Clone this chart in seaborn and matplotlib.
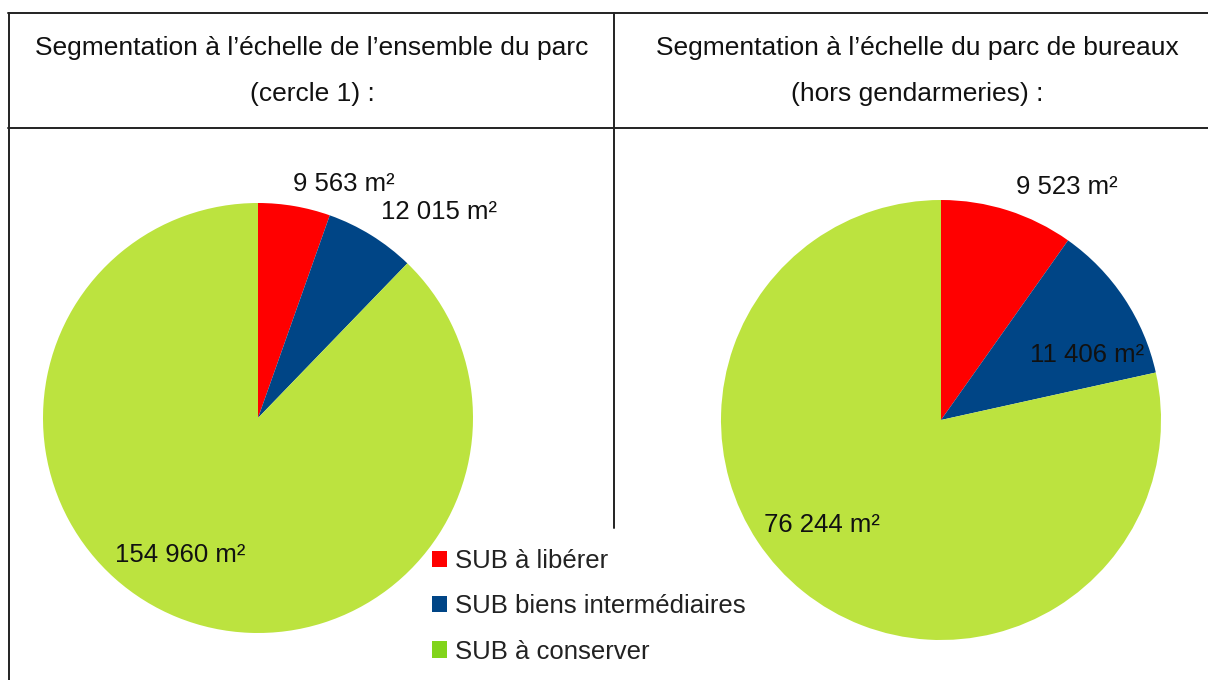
import matplotlib
matplotlib.use("Agg")
import matplotlib.pyplot as plt
import seaborn as sns
from matplotlib.lines import Line2D
from matplotlib.patches import Patch

# Data
categories = ["SUB à libérer", "SUB biens intermédiaires", "SUB à conserver"]
parc_total = [9563, 12015, 154960]
parc_bureaux = [9523, 11406, 76244]
titles = ["Segmentation à l\u2019échelle de l\u2019ensemble du parc\n(cercle 1) :",
          "Segmentation à l\u2019échelle du parc de bureaux\n(hors gendarmeries) :"]

pie_colors = ["#ff0000", "#004586", "#bce33f"]
legend_colors = ["#ff0000", "#004586", "#81d41a"]

sns.set_theme(style="white")
plt.rcParams["font.family"] = ["Liberation Sans", "DejaVu Sans"]

W, H = 1208, 680
fig = plt.figure(figsize=(W / 100, H / 100), dpi=100)


def fx(x):
    return x / W


def fy(y):
    return 1 - y / H


def fmt(v):
    return f"{v:,}".replace(",", " ") + " m²"


# table borders
line_kw = dict(color="#222222", lw=1.4, transform=fig.transFigure)
fig.add_artist(Line2D([fx(8), 1], [fy(13), fy(13)], **line_kw))
fig.add_artist(Line2D([fx(8), 1], [fy(128), fy(128)], **line_kw))
fig.add_artist(Line2D([fx(8.5), fx(8.5)], [fy(13), 0], **line_kw))
fig.add_artist(Line2D([fx(614), fx(614)], [fy(13), fy(528)], **line_kw))

# header titles
for cx, t in zip([312, 917], titles):
    fig.text(fx(cx), fy(71), t, ha="center", va="center", fontsize=19,
             color="#111111", linespacing=2.12)


def draw_pie(values, cx, cy, r, label_pos):
    ax = fig.add_axes([fx(cx - r), fy(cy + r), 2 * r / W, 2 * r / H])
    ax.pie(values, colors=pie_colors, startangle=90, counterclock=False,
           radius=1, wedgeprops=dict(linewidth=0))
    ax.set_xlim(-1, 1)
    ax.set_ylim(-1, 1)
    ax.set_aspect("equal")
    ax.axis("off")
    for v, (lx, ly) in zip(values, label_pos):
        ax.text(lx, ly, fmt(v), ha="center", va="center", fontsize=18.5,
                color="#111111", clip_on=False)


draw_pie(parc_total, 258, 418, 215,
         [(0.40, 1.09), (0.84, 0.96), (-0.36, -0.635)])
draw_pie(parc_bureaux, 941, 420, 220,
         [(0.57, 1.06), (0.665, 0.295), (-0.54, -0.475)])

handles = [Patch(facecolor=c, edgecolor="none") for c in legend_colors]
fig.legend(handles, categories, loc="upper left",
           bbox_to_anchor=(fx(432), fy(549)), frameon=False, fontsize=18.5,
           handlelength=0.6, handleheight=0.6, handletextpad=0.3,
           labelspacing=0.83, borderaxespad=0, borderpad=0, labelcolor="#222222")

fig.savefig("out.png", dpi=100, facecolor="white")
